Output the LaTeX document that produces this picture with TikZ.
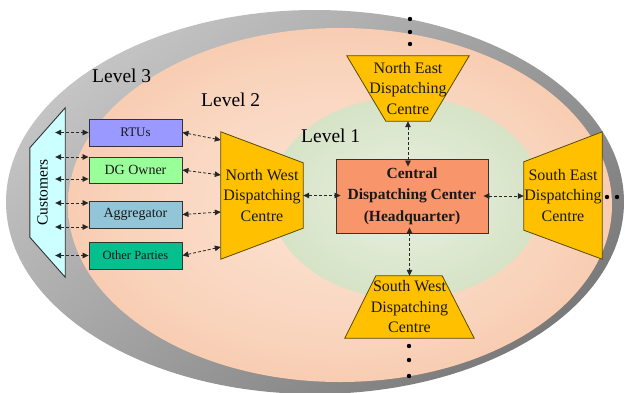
\documentclass[tikz,border=0pt]{standalone}
\usepackage{fontspec}
\setmainfont{Liberation Serif}
\usetikzlibrary{arrows.meta,calc}
\pgfdeclarelayer{bg}
\pgfsetlayers{bg,main}
\definecolor{gold}{HTML}{FFC000}
\definecolor{trapline}{HTML}{5A4A00}
\definecolor{boxline}{HTML}{333333}
\definecolor{rtuc}{HTML}{9999FF}
\definecolor{dgc}{HTML}{99FF99}
\definecolor{aggc}{HTML}{93C5D8}
\definecolor{othc}{HTML}{06BF8E}
\definecolor{centc}{HTML}{F8956A}
\definecolor{custc}{HTML}{CCFFFF}
\definecolor{salmin}{HTML}{FCE4D4}
\definecolor{salmout}{HTML}{F2AC82}
\definecolor{grnin}{HTML}{EAF0E1}
\definecolor{grnout}{HTML}{BDD3A5}
\definecolor{grayhi}{HTML}{C4C4C4}
\definecolor{graylo}{HTML}{7A7A7A}
\pgfdeclareradialshading{salmshade}{\pgfpoint{0bp}{0bp}}{color(0bp)=(salmin); color(20bp)=(salmin!70!salmout); color(50bp)=(salmout)}
\pgfdeclareradialshading{grnshade}{\pgfpoint{0bp}{0bp}}{color(0bp)=(grnin); color(25bp)=(grnin!55!grnout); color(50bp)=(grnout)}
\begin{document}
\begin{tikzpicture}[x=1pt,y=-1pt,
  darr/.style={draw=black!85, line width=0.8pt, dash pattern=on 3pt off 2pt,
    {Triangle[length=6pt,width=5.5pt]}-{Triangle[length=6pt,width=5.5pt]}},
  disp/.style={draw=none, align=center, inner sep=0pt, text=black!90,
    font=\fontsize{16}{20.5}\selectfont},
  lbox/.style={draw=boxline, line width=0.9pt, minimum width=93pt,
    minimum height=27pt, inner sep=0pt, text=black!90},
  trap/.style={fill=gold, draw=trapline, line width=0.8pt, line join=miter},
  lvl/.style={font=\fontsize{19.5}{22}\selectfont, inner sep=0pt, anchor=base west}]
\useasboundingbox (0,0) rectangle (625,392);

% level ellipses
\begin{pgfonlayer}{bg}
\shade[top color=grayhi, bottom color=graylo, shading angle=40]
  (315,202) ellipse [x radius=309pt, y radius=192pt];
\shade[shading=salmshade] (340,205) ellipse [x radius=272pt, y radius=177pt];
\shade[shading=grnshade] (406,198) ellipse [x radius=136pt, y radius=101pt];
\end{pgfonlayer}

% level labels
\node[lvl] (l3) at (92,82) {Level 3};
\node[lvl] (l2) at (201,106) {Level 2};
\node[lvl] (l1) at (301,142.5) {Level 1};

% customers
\node[draw=none, minimum width=25pt, minimum height=169pt, inner sep=0pt,
  font=\fontsize{15.5}{18}\selectfont] (cust) at (42.5,192.5) {\rotatebox{90}{Customers}};
\begin{pgfonlayer}{bg}
\draw[fill=custc, draw=boxline, line width=0.9pt]
  ([yshift=-40pt]cust.north west) -- ([xshift=10pt]cust.north east)
  -- ([xshift=10pt]cust.south east) -- ([yshift=40pt]cust.south west) -- cycle;
\end{pgfonlayer}

% left boxes
\node[lbox, fill=rtuc, font=\fontsize{13}{15}\selectfont] (rtu) at (135.5,132.5) {RTUs};
\node[lbox, fill=dgc, minimum height=26pt, font=\fontsize{14}{16}\selectfont] (dg) at (135.5,170) {DG Owner};
\node[lbox, fill=aggc, font=\fontsize{14}{16}\selectfont] (agg) at (135.5,214.5) {Aggregator};
\node[lbox, fill=othc, font=\fontsize{12.5}{15}\selectfont] (oth) at (135.5,255.5) {Other Parties};

% central
\node[draw=boxline, line width=0.9pt, fill=centc, minimum width=152pt, minimum height=74pt,
  inner sep=0pt, align=center, text=black!90,
  font=\bfseries\fontsize{15.5}{21.5}\selectfont] (cen) at (412,196)
  {Central\\Dispatching Center\\(Headquarter)};

% dispatching centres
\node[disp, minimum width=122pt, minimum height=65pt] (ne) at (408,88.5) {North East\\Dispatching\\Centre};
\node[disp, minimum width=82pt, minimum height=127pt] (nw) at (262,195.5) {North West\\Dispatching\\Centre};
\node[disp, minimum width=78pt, minimum height=127pt] (se) at (563,195.5) {South East\\Dispatching\\Centre};
\node[disp, minimum width=129pt, minimum height=62pt] (sw) at (409.5,307) {South West\\Dispatching\\Centre};

\begin{pgfonlayer}{bg}
\draw[trap] (ne.north west) -- (ne.north east) -- ([xshift=-39pt]ne.south east)
  -- ([xshift=39pt]ne.south west) -- cycle;
\draw[trap] ([xshift=31pt]sw.north west) -- ([xshift=-32pt]sw.north east)
  -- (sw.south east) -- (sw.south west) -- cycle;
\draw[trap] (nw.north west) -- ([yshift=-31pt]nw.north east)
  -- ([yshift=31pt]nw.south east) -- (nw.south west) -- cycle;
\draw[trap] ([yshift=-30pt]se.north west) -- (se.north east)
  -- (se.south east) -- ([yshift=29pt]se.south west) -- cycle;
\end{pgfonlayer}

% connectors customers - boxes
\draw[darr] (cust.east |- rtu.west) -- (rtu.west);
\draw[darr] ($(cust.east |- dg.west)+(0,-13)$) -- ($(dg.west)+(0,-13)$);
\draw[darr] ($(cust.east |- dg.west)+(0,9)$) -- ($(dg.west)+(0,9)$);
\draw[darr] ($(cust.east |- agg.west)+(0,-11.5)$) -- ($(agg.west)+(0,-11.5)$);
\draw[darr] ($(cust.east |- agg.west)+(0,12.5)$) -- ($(agg.west)+(0,12.5)$);
\draw[darr] (cust.east |- oth.west) -- (oth.west);

% boxes - north west
\draw[darr] (rtu.east) -- ($(nw.west)+(0,-55.5)$);
\draw[darr] (dg.east) -- ($(nw.west)+(0,-20.5)$);
\draw[darr] (agg.east) -- ($(nw.west)+(0,16.5)$);
\draw[darr] (oth.east) -- ($(nw.west)+(0,51.5)$);

% centre links
\draw[darr] (nw.east) -- ($(nw.east -| cen.west)+(5,0)$);
\draw[darr] ($(cen.east)+(-5,0)$) -- (se.west |- cen.east);
\draw[darr] (ne.south) -- ($(ne.south |- cen.north)+(0,8)$);
\draw[darr] ($(sw.north |- cen.south)+(0,-6)$) -- (sw.north);

% continuation dots
\foreach \yy in {19,32,44} \fill (410,\yy) circle (2.2pt);
\foreach \yy in {346,360,376} \fill (409,\yy) circle (2.2pt);
\foreach \xx in {607,617} \fill (\xx,197) circle (2.2pt);
\end{tikzpicture}
\end{document}
